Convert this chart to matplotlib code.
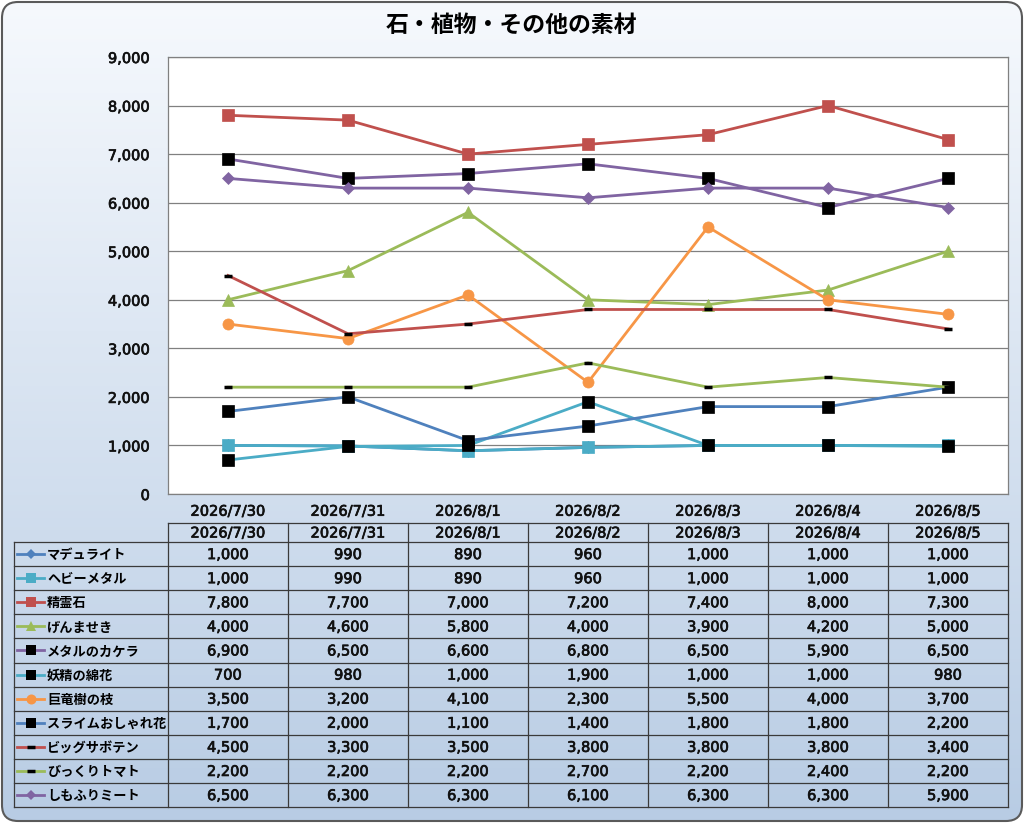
import numpy as np
import matplotlib.pyplot as plt
import matplotlib.patheffects as pe
from matplotlib.patches import FancyBboxPatch
from matplotlib.ticker import FuncFormatter

plt.rcParams['font.family'] = ['Noto Sans CJK JP', 'DejaVu Sans']
NUMFONT = ['DejaVu Sans']
thick = [pe.withStroke(linewidth=0.5, foreground="#111111")]

title = "石・植物・その他の素材"
dates = ["2026/7/30", "2026/7/31", "2026/8/1", "2026/8/2", "2026/8/3", "2026/8/4", "2026/8/5"]

names = ["マデュライト", "ヘビーメタル", "精霊石", "げんませき", "メタルのカケラ", "妖精の綿花",
         "巨竜樹の枝", "スライムおしゃれ花", "ビッグサボテン", "びっくりトマト", "しもふりミート"]

madulite = [1000, 990, 890, 960, 1000, 1000, 1000]
heavy_metal = [1000, 990, 890, 960, 1000, 1000, 1000]
seireiseki = [7800, 7700, 7000, 7200, 7400, 8000, 7300]
genmaseki = [4000, 4600, 5800, 4000, 3900, 4200, 5000]
metal_kakera = [6900, 6500, 6600, 6800, 6500, 5900, 6500]
yousei_wata = [700, 980, 1000, 1900, 1000, 1000, 980]
kyoryu_eda = [3500, 3200, 4100, 2300, 5500, 4000, 3700]
slime_hana = [1700, 2000, 1100, 1400, 1800, 1800, 2200]
big_saboten = [4500, 3300, 3500, 3800, 3800, 3800, 3400]
bikkuri_tomato = [2200, 2200, 2200, 2700, 2200, 2400, 2200]
shimofuri = [6500, 6300, 6300, 6100, 6300, 6300, 5900]

series = [madulite, heavy_metal, seireiseki, genmaseki, metal_kakera, yousei_wata,
          kyoryu_eda, slime_hana, big_saboten, bikkuri_tomato, shimofuri]

# line colour, marker, marker colour, marker size
styles = [
    ("#4F81BD", "D", "#4F81BD", 6),
    ("#4BACC6", "s", "#4BACC6", 8),
    ("#C0504D", "s", "#C0504D", 8),
    ("#9BBB59", "^", "#9BBB59", 8),
    ("#8064A2", "s", "black", 8),
    ("#4BACC6", "s", "black", 8),
    ("#F79646", "o", "#F79646", 8),
    ("#4F81BD", "s", "black", 8),
    ("#C0504D", "_", "black", 6),
    ("#9BBB59", "_", "black", 6),
    ("#8064A2", "D", "#8064A2", 6),
]

W, H = 1024, 823
fig = plt.figure(figsize=(W / 100, H / 100), dpi=100)

# background: rounded frame with vertical gradient
bg = fig.add_axes([0, 0, 1, 1], zorder=0)
bg.set_xlim(0, W)
bg.set_ylim(H, 0)
bg.axis("off")
frame = FancyBboxPatch((2, 2), W - 4, H - 4, boxstyle="round,pad=0,rounding_size=16",
                       facecolor="none", edgecolor="#5a5a5a", linewidth=1.5, zorder=5)
bg.add_patch(frame)
top = np.array([246, 249, 253]) / 255
bot = np.array([184, 204, 228]) / 255
t = np.linspace(0, 1, 256)[:, None, None]
grad = top + (bot - top) * t
grad = np.repeat(grad, 2, axis=1)
im = bg.imshow(grad, extent=(0, W, H, 0), aspect="auto", zorder=1)
im.set_clip_path(frame)

bg.text(W / 2, 25, title, ha="center", va="center", fontsize=16.5, fontweight="bold", zorder=6)

# data table
left_col, x0, colw = 14, 168, 120
hdr_top, row_top, rowh = 523, 542, 24.1
nrows = len(names)
lc = "#3a3a3a"
lw = 0.9
bottom = row_top + nrows * rowh
bg.plot([x0, x0 + 7 * colw], [hdr_top, hdr_top], color=lc, lw=lw, zorder=6)
for i in range(nrows + 1):
    y = row_top + i * rowh
    bg.plot([left_col, x0 + 7 * colw], [y, y], color=lc, lw=lw, zorder=6)
bg.plot([left_col, left_col], [row_top, bottom], color=lc, lw=lw, zorder=6)
for j in range(8):
    x = x0 + j * colw
    bg.plot([x, x], [hdr_top, bottom], color=lc, lw=lw, zorder=6)
for j, d in enumerate(dates):
    bg.text(x0 + (j + 0.5) * colw, (hdr_top + row_top) / 2 + 0.5, d, ha="center", va="center",
            fontsize=10.5, family=NUMFONT, color="#111111", path_effects=thick, zorder=7)
for i, (name, vals, st) in enumerate(zip(names, series, styles)):
    yc = row_top + (i + 0.5) * rowh
    color, mk, mc, ms = st
    bg.plot([17, 44], [yc, yc], color=color, lw=2, zorder=7)
    bg.plot([30.5], [yc], marker=mk, color=mc, markersize=ms * 0.9,
            markeredgewidth=2.5 if mk == "_" else 0, zorder=8)
    bg.text(47, yc + 1, name, ha="left", va="center", fontsize=9.5, fontweight="bold", zorder=7)
    for j, v in enumerate(vals):
        bg.text(x0 + (j + 0.5) * colw, yc + 0.5, f"{v:,}", ha="center", va="center",
                fontsize=10.5, family=NUMFONT, color="#111111", path_effects=thick, zorder=7)

# line chart
ax = fig.add_axes([168 / W, 1 - 494 / H, 840 / W, (494 - 57) / H], zorder=2)
ax.set_facecolor("white")
x = np.arange(len(dates))
for vals, st in zip(series, styles):
    color, mk, mc, ms = st
    ax.plot(x, vals, color=color, lw=2, marker=mk, markersize=ms, markerfacecolor=mc,
            markeredgecolor=mc, markeredgewidth=2.5 if mk == "_" else 0.5, zorder=3)
ax.set_xlim(-0.5, len(dates) - 0.5)
ax.set_ylim(0, 9000)
ax.set_yticks(np.arange(0, 9001, 1000))
ax.yaxis.set_major_formatter(FuncFormatter(lambda v, p: f"{int(v):,}"))
ax.set_xticks(x)
ax.set_xticklabels(dates)
ax.grid(axis="y", color="#808080", lw=0.9)
ax.set_axisbelow(True)
ax.tick_params(length=0, labelsize=10.5, labelcolor="#111111")
ax.tick_params(axis="y", pad=13)
ax.tick_params(axis="x", pad=7)
for lab in ax.get_xticklabels() + ax.get_yticklabels():
    lab.set_family(NUMFONT)
    lab.set_path_effects(thick)
for sp in ax.spines.values():
    sp.set_color("#808080")
    sp.set_linewidth(0.9)

fig.savefig("out.png", dpi=100)
